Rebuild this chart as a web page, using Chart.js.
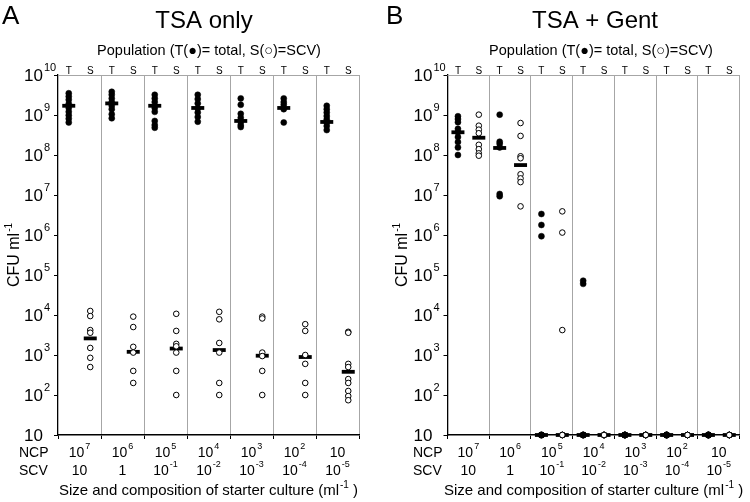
<!DOCTYPE html>
<html>
<head>
<meta charset="utf-8">
<script src="https://cdn.jsdelivr.net/npm/chart.js@4.4.0/dist/chart.umd.min.js"></script>
<style>
  html, body { margin: 0; padding: 0; background: #fff; }
  #wrap { display: flex; width: 750px; height: 502px; }
  .panel { width: 375px; height: 502px; }
</style>
</head>
<body>
<div id="wrap">
  <div class="panel"><canvas id="chart-a" width="375" height="502"></canvas></div>
  <div class="panel"><canvas id="chart-b" width="375" height="502"></canvas></div>
</div>
<script>
// starter culture: NCP and SCV per ml, as powers of ten
const ncpExp = [7, 6, 5, 4, 3, 2, 1];
const scvExp = [1, 0, -1, -2, -3, -4, -5];
const yTicks = [1e1, 1e2, 1e3, 1e4, 1e5, 1e6, 1e7, 1e8, 1e9, 1e10];

// A: TSA only
const tsaTotal = [
  [3.5e9, 2.9e9, 2.4e9, 1.9e9, 1.5e9, 1.2e9, 9.8e8, 8.1e8, 6.5e8],
  [3.8e9, 3.2e9, 2.6e9, 2.1e9, 1.7e9, 1.4e9, 1.05e9, 8.3e8],
  [3.2e9, 2.6e9, 2.1e9, 1.5e9, 1.2e9, 7.1e8, 5.6e8, 4.8e8],
  [3.2e9, 2.5e9, 1.95e9, 1.45e9, 1.15e9, 8.9e8, 6.8e8],
  [2.6e9, 1.8e9, 1.07e9, 8.5e8, 6.8e8, 5.6e8, 5e8],
  [2.6e9, 2.1e9, 1.8e9, 1.4e9, 6.5e8],
  [1.7e9, 1.4e9, 1.15e9, 9.4e8, 7.8e8, 6.5e8, 5.3e8, 4.2e8]
];
const tsaTotalMed = [1.7e9, 1.95e9, 1.7e9, 1.5e9, 7.1e8, 1.5e9, 6.7e8];
const tsaScv = [
  [1.26e4, 9.4e3, 4.2e3, 3.6e3, 1.5e3, 8.5e2, 5e2],
  [9.1e3, 5e3, 1.6e3, 1.15e3, 4e2, 2e2],
  [1.07e4, 4e3, 1.9e3, 1.65e3, 1.15e3, 4e2, 1e2],
  [1.2e4, 7.8e3, 2e3, 1.15e3, 2e2, 1e2],
  [9.1e3, 8.2e3, 1.15e3, 9.4e2, 4e2, 1e2],
  [5.9e3, 4e3, 1e3, 6e2, 2e2, 1e2],
  [3.8e3, 3.6e3, 6e2, 5e2, 2.5e2, 2e2, 1.26e2, 9.4e1, 7.4e1]
];
const tsaScvMed = [2.6e3, 1.2e3, 1.45e3, 1.33e3, 9.6e2, 8.9e2, 3.8e2];

// B: TSA + Gent (10 = detection limit)
const gentTotal = [
  [9.3e8, 7.9e8, 6.6e8, 4.5e8, 3.7e8, 2.8e8, 2.1e8, 1.55e8, 1e8],
  [1.02e9, 2.15e8, 1.9e8, 1.55e8, 1.06e7, 9.3e6],
  [3.35e6, 1.78e6, 9.3e5, 10, 10, 10, 10, 10],
  [7.2e4, 6e4, 10, 10, 10, 10, 10, 10],
  [10, 10, 10, 10, 10, 10, 10, 10],
  [10, 10, 10, 10, 10, 10, 10, 10],
  [10, 10, 10, 10, 10, 10, 10, 10]
];
const gentTotalMed = [3.7e8, 1.5e8, 10, 10, 10, 10, 10];
const gentScv = [
  [1.02e9, 5.4e8, 4.3e8, 3.5e8, 1.8e8, 1.4e8, 1.1e8, 9.6e7],
  [6.3e8, 3e8, 9.3e7, 8.3e7, 3.3e7, 2.6e7, 2.1e7, 5.2e6],
  [3.9e6, 1.15e6, 4.2e3, 10, 10, 10, 10, 10],
  [10, 10, 10, 10, 10, 10, 10, 10],
  [10, 10, 10, 10, 10, 10, 10, 10],
  [10, 10, 10, 10, 10, 10, 10, 10],
  [10, 10, 10, 10, 10, 10, 10, 10]
];
const gentScvMed = [2.7e8, 5.6e7, 10, 10, 10, 10, 10];

const FONT = '"Liberation Sans", Arial, sans-serif';

function strip(groups, offset) {
  const pts = [];
  groups.forEach((vals, g) => vals.forEach(v => pts.push({ x: g * 2 + offset, y: v })));
  return pts;
}
function bars(meds, offset) {
  return meds.map((v, g) => ({ x: g * 2 + offset, y: v }));
}

function powParts(exp) {
  if (exp === 0) return ["1", ""];
  if (exp === 1) return ["10", ""];
  return ["10", String(exp)];
}

// draw base text with a superscript; align 'left' | 'right' | 'center'
function drawPow(ctx, base, sup, x, y, align, size, supSize, rise) {
  ctx.font = size + "px " + FONT;
  const bw = ctx.measureText(base).width;
  ctx.font = supSize + "px " + FONT;
  const sw = sup ? ctx.measureText(sup).width + 1 : 0;
  let x0;
  if (align === "right") x0 = x - bw;
  else if (align === "center") x0 = x - (bw + sw) / 2;
  else x0 = x;
  ctx.textAlign = "left";
  ctx.font = size + "px " + FONT;
  ctx.fillText(base, x0, y);
  if (sup) {
    ctx.font = supSize + "px " + FONT;
    ctx.fillText(sup, x0 + bw + 1, y - rise);
  }
  return bw + sw;
}

const panelText = {
  id: "panelText",
  afterDraw(chart, args, opts) {
    const ctx = chart.ctx;
    const area = chart.chartArea;
    const xs = chart.scales.x;
    const ys = chart.scales.y;
    ctx.save();

    // top frame line
    ctx.strokeStyle = "#a6a6a6";
    ctx.lineWidth = 1;
    ctx.beginPath();
    ctx.moveTo(area.left, Math.round(area.top) + 0.5);
    ctx.lineTo(area.right, Math.round(area.top) + 0.5);
    ctx.stroke();

    ctx.fillStyle = "#000";
    ctx.textBaseline = "alphabetic";

    ctx.textAlign = "left";
    ctx.font = "26px " + FONT;
    ctx.fillText(opts.letter, opts.letterX, 24);

    ctx.textAlign = "center";
    ctx.font = "24px " + FONT;
    ctx.fillText(opts.title, opts.titleX, 28);

    ctx.font = "14.5px " + FONT;
    ctx.fillText("Population (T(\u25CF)= total, S(\u25CB)=SCV)", opts.popX, 55);

    // column letters
    ctx.font = "10px " + FONT;
    for (let i = 0; i < 14; i++) {
      ctx.fillText(i % 2 === 0 ? "T" : "S", xs.getPixelForValue(i + 0.5), area.top - 1.5);
    }

    // y tick labels
    ctx.textBaseline = "middle";
    yTicks.forEach(v => {
      const exp = Math.round(Math.log10(v));
      const y = ys.getPixelForValue(v) + 1;
      ctx.font = "17px " + FONT;
      ctx.textAlign = "right";
      ctx.fillText("10", area.left - 15, y);
      if (exp > 1) {
        ctx.textAlign = "left";
        ctx.font = "11px " + FONT;
        ctx.fillText(String(exp), area.left - 14, y - 8);
      }
    });

    // y title
    ctx.textBaseline = "alphabetic";
    ctx.save();
    ctx.translate(opts.yTitleX, (area.top + area.bottom) / 2);
    ctx.rotate(-Math.PI / 2);
    ctx.font = "16px " + FONT;
    const w1 = ctx.measureText("CFU ml").width;
    ctx.font = "10px " + FONT;
    const w2 = ctx.measureText("-1").width;
    drawPow(ctx, "CFU ml", "-1", -(w1 + w2 + 1) / 2, 0, "left", 16, 10, 7);
    ctx.restore();

    // starter culture rows
    ctx.textAlign = "left";
    ctx.font = "14px " + FONT;
    ctx.fillText("NCP", opts.rowX, 457);
    ctx.fillText("SCV", opts.rowX, 475);
    for (let g = 0; g < 7; g++) {
      const cx = xs.getPixelForValue(g * 2 + 1);
      const a = powParts(ncpExp[g]);
      drawPow(ctx, a[0], a[1], cx, 457, "center", 14, 9, 8);
      const b = powParts(scvExp[g]);
      drawPow(ctx, b[0], b[1], cx, 475, "center", 14, 9, 8);
    }

    // x title
    const cx = (area.left + area.right) / 2;
    ctx.font = "15px " + FONT;
    const t1 = "Size and composition of starter culture (ml";
    const tw = ctx.measureText(t1).width + ctx.measureText(" )").width;
    ctx.font = "10px " + FONT;
    const sw = ctx.measureText("-1").width + 1;
    const x0 = cx - (tw + sw) / 2;
    const used = drawPow(ctx, t1, "-1", x0, 495, "left", 15, 10, 7);
    ctx.font = "15px " + FONT;
    ctx.fillText(" )", x0 + used, 495);

    ctx.restore();
  }
};

function makePanel(canvasId, cfg) {
  const ctx = document.getElementById(canvasId).getContext("2d");
  return new Chart(ctx, {
    type: "scatter",
    data: {
      datasets: [
        {
          data: strip(cfg.scv, 1.5),
          pointStyle: "circle",
          pointRadius: 2.8,
          pointBorderWidth: 1,
          pointBackgroundColor: "#fff",
          pointBorderColor: "#000",
          clip: false,
          order: 0
        },
        {
          data: bars(cfg.totalMed, 0.5).concat(bars(cfg.scvMed, 1.5)),
          pointStyle: "line",
          pointRadius: 6.5,
          pointBorderWidth: 3.8,
          pointBorderColor: "#000",
          clip: false,
          order: 1
        },
        {
          data: strip(cfg.total, 0.5),
          pointStyle: "circle",
          pointRadius: 3,
          pointBorderWidth: 0.5,
          pointBackgroundColor: "#000",
          pointBorderColor: "#000",
          clip: false,
          order: 2
        }
      ]
    },
    options: {
      responsive: false,
      animation: false,
      events: [],
      layout: { padding: { left: 0, right: cfg.padRight, top: 75, bottom: 67 } },
      plugins: {
        legend: { display: false },
        tooltip: { enabled: false },
        panelText: cfg.text
      },
      scales: {
        x: {
          type: "linear",
          min: 0,
          max: 14,
          afterFit: s => { s.height = 0; },
          ticks: { display: false, stepSize: 2 },
          grid: {
            color: c => (c.tick && c.tick.value === 0 ? "rgba(0,0,0,0)" : "#a6a6a6"),
            lineWidth: 1,
            drawTicks: true,
            tickLength: 4,
            tickColor: "#000",
            tickWidth: 1
          },
          border: { color: "#000", width: 1.6 }
        },
        y: {
          type: "logarithmic",
          min: 10,
          max: 1e10,
          afterFit: s => { s.width = cfg.axisLeft; },
          afterBuildTicks: s => { s.ticks = yTicks.map(v => ({ value: v })); },
          ticks: { display: false },
          grid: {
            drawOnChartArea: false,
            drawTicks: true,
            tickLength: 4,
            tickColor: "#000",
            tickWidth: 1
          },
          border: { color: "#000", width: 1.3 }
        }
      }
    },
    plugins: [panelText]
  });
}

makePanel("chart-a", {
  total: tsaTotal, totalMed: tsaTotalMed, scv: tsaScv, scvMed: tsaScvMed,
  axisLeft: 58, padRight: 16,
  text: { letter: "A", letterX: 2, title: "TSA only", titleX: 204, popX: 209, yTitleX: 19, rowX: 19 }
});

makePanel("chart-b", {
  total: gentTotal, totalMed: gentTotalMed, scv: gentScv, scvMed: gentScvMed,
  axisLeft: 72.5, padRight: 3,
  text: { letter: "B", letterX: 11, title: "TSA + Gent", titleX: 220, popX: 226, yTitleX: 32, rowX: 38 }
});
</script>
</body>
</html>
